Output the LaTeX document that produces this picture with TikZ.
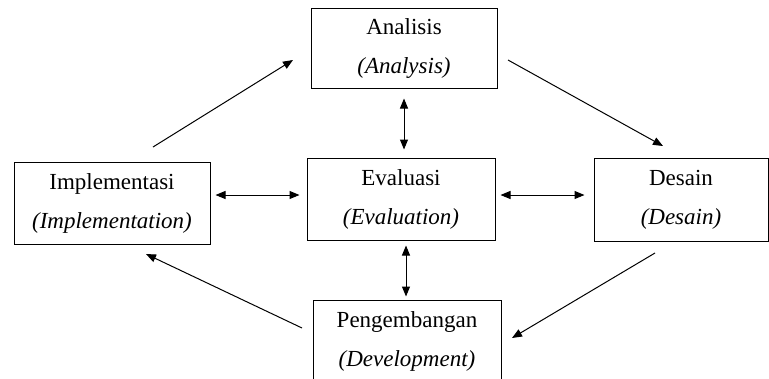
\documentclass[tikz,border=0pt]{standalone}
\usepackage{fontspec}
\setmainfont{Liberation Serif}
\usetikzlibrary{arrows.meta}
\begin{document}
\begin{tikzpicture}[x=1pt,y=-1pt,
  box/.style={draw, line width=1pt, inner sep=0pt, align=center,
    font=\fontsize{23}{39}\selectfont},
  arr/.style={line width=1pt, -{Triangle[length=10pt,width=8pt]}},
  biarr/.style={line width=1pt, {Triangle[length=10pt,width=8pt]}-{Triangle[length=10pt,width=8pt]}}]
\useasboundingbox (0,0) rectangle (769,378);
\begin{scope}
\clip (0,0) rectangle (769,378);
\node[box, minimum width=186pt, minimum height=80pt] (ana) at (404,48) {Analisis\\\textit{(Analysis)}};
\node[box, minimum width=196pt, minimum height=82pt] (impl) at (112,203) {Implementasi\\\textit{(Implementation)}};
\node[box, minimum width=188pt, minimum height=82pt] (eva) at (401,199) {Evaluasi\\\textit{(Evaluation)}};
\node[box, minimum width=174pt, minimum height=83pt] (des) at (681,199.5) {Desain\\\textit{(Desain)}};
\node[box, minimum width=188pt, minimum height=82pt] (dev) at (407,341) {Pengembangan\\\textit{(Development)}};
\end{scope}
% cycle arrow end points
\coordinate (a1) at (153,147); \coordinate (a2) at (293,60);
\coordinate (b1) at (508,60);  \coordinate (b2) at (663,146);
\coordinate (c1) at (655,253); \coordinate (c2) at (512,338);
\coordinate (d1) at (302,328); \coordinate (d2) at (146,254);
\draw[arr] (a1) -- (a2);
\draw[arr] (b1) -- (b2);
\draw[arr] (c1) -- (c2);
\draw[arr] (d1) -- (d2);
% arrows with the centre
\draw[biarr, shorten <=10pt, shorten >=8pt] (ana.south) -- (ana.south |- eva.north);
\draw[biarr, shorten <=5pt, shorten >=3pt] (eva.south -| 406,0) -- (dev.north -| 406,0);
\draw[biarr, shorten <=5pt, shorten >=7pt] (impl.east |- 0,195) -- (eva.west |- 0,195);
\draw[biarr, shorten <=5pt, shorten >=9pt] (eva.east |- 0,195) -- (des.west |- 0,195);
\end{tikzpicture}
\end{document}
